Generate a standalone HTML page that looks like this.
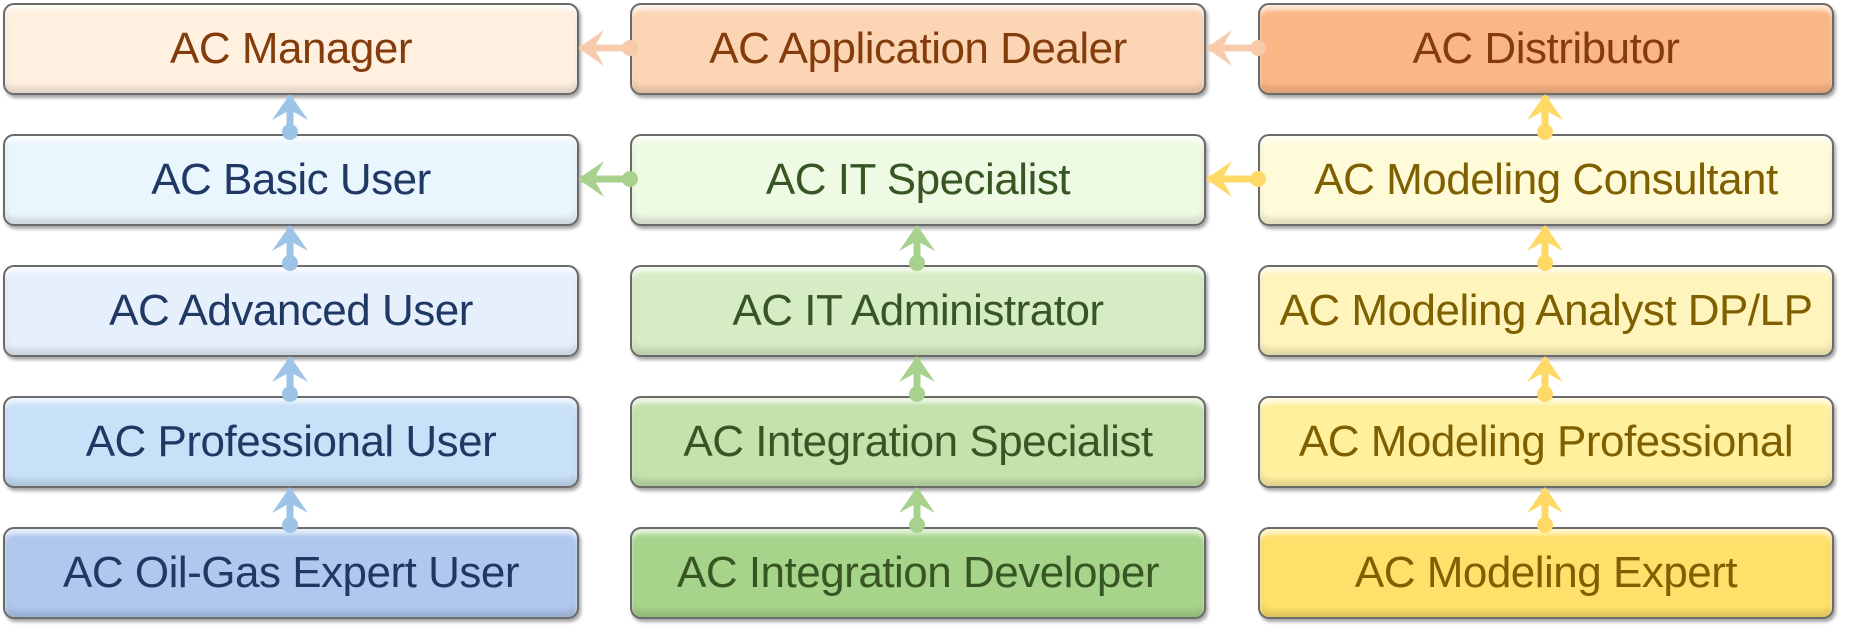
<!DOCTYPE html>
<html><head><meta charset="utf-8"><style>
body{margin:0;width:1851px;height:633px;background:#fff;overflow:hidden;position:relative;font-family:"Liberation Sans",Carlito,sans-serif}
.b{position:absolute;width:572px;height:88px;border:2px solid #6b6b6b;border-radius:11px;box-shadow:2px 3px 3px rgba(0,0,0,.35),inset 0 5px 4px rgba(255,255,255,.7),inset 0 -6px 6px rgba(0,0,0,.12);display:flex;align-items:center;justify-content:center;font-size:44px;letter-spacing:-0.5px;white-space:nowrap}
svg{position:absolute;left:0;top:0}
</style></head><body>
<div class="b" style="left:3px;top:3px;background:#fff0e0;color:#843c0c">AC Manager</div>
<div class="b" style="left:630px;top:3px;background:#fcd5b5;color:#843c0c">AC Application Dealer</div>
<div class="b" style="left:1258px;top:3px;background:#fbb686;color:#843c0c">AC Distributor</div>

<div class="b" style="left:3px;top:134px;background:#eaf6fe;color:#1f3864">AC Basic User</div>
<div class="b" style="left:630px;top:134px;background:#eefae4;color:#375623">AC IT Specialist</div>
<div class="b" style="left:1258px;top:134px;background:#fffbd8;color:#7f6000">AC Modeling Consultant</div>

<div class="b" style="left:3px;top:265px;background:#e6f0fc;color:#1f3864">AC Advanced User</div>
<div class="b" style="left:630px;top:265px;background:#d6ecc4;color:#375623">AC IT Administrator</div>
<div class="b" style="left:1258px;top:265px;background:#fff5bc;color:#7f6000">AC Modeling Analyst DP/LP</div>

<div class="b" style="left:3px;top:396px;background:#c8e0f8;color:#1f3864">AC Professional User</div>
<div class="b" style="left:630px;top:396px;background:#c4e2ac;color:#375623">AC Integration Specialist</div>
<div class="b" style="left:1258px;top:396px;background:#fff09e;color:#7f6000">AC Modeling Professional</div>

<div class="b" style="left:3px;top:527px;background:#b0c8ee;color:#1f3864">AC Oil-Gas Expert User</div>
<div class="b" style="left:630px;top:527px;background:#a6d48a;color:#375623">AC Integration Developer</div>
<div class="b" style="left:1258px;top:527px;background:#ffe06a;color:#7f6000">AC Modeling Expert</div>

<svg width="1851" height="633">
<defs>
<g id="up"><rect x="-3.5" y="2" width="7" height="36" /><polygon points="0,0 -18,26 0,16 18,26"/><circle cx="0" cy="38" r="8"/></g>
<g id="lf"><rect x="2" y="-3.5" width="50" height="7" /><polygon points="0,0 26,-18 16,0 26,18"/><circle cx="52" cy="0" r="8"/></g>
</defs>
<g fill="#9dc3e6">
<use href="#up" x="290" y="94"/><use href="#up" x="290" y="225"/><use href="#up" x="290" y="356"/><use href="#up" x="290" y="487"/>
</g>
<g fill="#a9d18e">
<use href="#up" x="917" y="225"/><use href="#up" x="917" y="356"/><use href="#up" x="917" y="487"/>
<use href="#lf" x="578" y="179"/>
</g>
<g fill="#ffd966">
<use href="#up" x="1545" y="94"/><use href="#up" x="1545" y="225"/><use href="#up" x="1545" y="356"/><use href="#up" x="1545" y="487"/>
<use href="#lf" x="1206" y="179"/>
</g>
<g fill="#f8cbad">
<use href="#lf" x="578" y="48"/><use href="#lf" x="1206" y="48"/>
</g>
</svg>
</body></html>
